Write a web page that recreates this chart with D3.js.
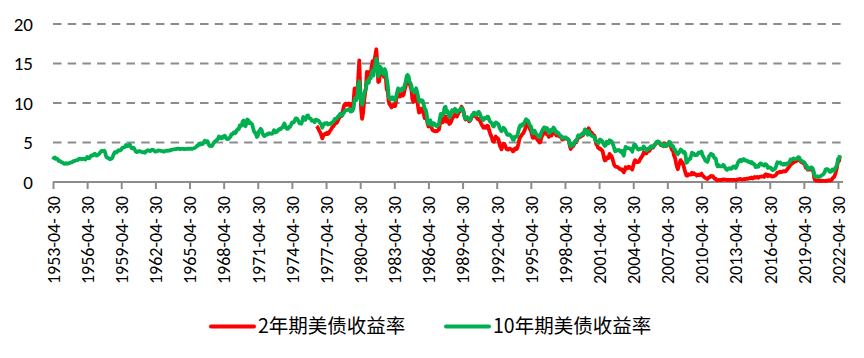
<!DOCTYPE html>
<html><head><meta charset="utf-8">
<script src="https://cdn.jsdelivr.net/npm/d3@7"></script>
<style>html,body{margin:0;padding:0;background:#fff;}svg{display:block;}</style>
</head><body>
<svg id="chart" width="864" height="358"></svg>
<script>
// Monthly series (percent), 10Y from 1953-04, 2Y from 1976-06
const tenYearStart = [1953, 4];
const tenYearYield = [
2.83,3.05,3.11,2.93,2.95,2.87,2.66,2.68,2.59,
2.48,2.47,2.37,2.29,2.37,2.38,2.30,2.36,2.38,2.43,2.48,2.51,
2.61,2.65,2.68,2.75,2.76,2.78,2.90,2.97,2.97,2.88,2.89,2.96,
2.90,2.84,2.96,3.18,3.07,3.00,3.11,3.33,3.38,3.34,3.49,3.59,
3.46,3.34,3.41,3.48,3.60,3.80,3.93,3.93,3.92,3.97,3.72,3.21,
3.09,3.05,2.98,2.88,2.92,2.97,3.20,3.54,3.76,3.80,3.74,3.86,
4.02,3.96,3.99,4.12,4.31,4.34,4.40,4.43,4.68,4.53,4.53,4.69,
4.72,4.49,4.25,4.28,4.35,4.15,3.90,3.80,3.80,3.89,3.93,3.84,
3.84,3.78,3.74,3.78,3.71,3.88,3.92,4.04,3.98,3.92,3.94,4.06,
4.08,4.04,3.93,3.84,3.87,3.91,4.01,3.98,3.98,3.93,3.92,3.86,
3.83,3.92,3.93,3.97,3.93,3.99,4.02,4.00,4.08,4.11,4.12,4.13,
4.17,4.15,4.22,4.23,4.20,4.17,4.19,4.19,4.20,4.19,4.15,4.18,
4.19,4.21,4.21,4.20,4.21,4.21,4.20,4.25,4.29,4.35,4.45,4.62,
4.61,4.83,4.87,4.75,4.78,4.81,5.02,5.22,5.18,5.01,5.16,4.84,
4.58,4.63,4.54,4.59,4.85,5.02,5.16,5.28,5.30,5.48,5.75,5.70,
5.53,5.56,5.74,5.64,5.87,5.72,5.50,5.42,5.46,5.58,5.70,6.03,
6.04,6.19,6.30,6.17,6.32,6.57,6.72,6.69,7.16,7.10,7.14,7.65,
7.79,7.24,7.07,7.39,7.91,7.84,7.46,7.53,7.39,7.33,6.84,6.39,
6.24,6.11,5.70,5.83,6.39,6.52,6.73,6.58,6.14,5.93,5.81,5.93,
5.95,6.08,6.07,6.19,6.13,6.11,6.11,6.21,6.55,6.48,6.28,6.36,
6.46,6.64,6.71,6.67,6.85,6.90,7.13,7.40,7.09,6.79,6.73,6.74,
6.99,6.96,7.21,7.51,7.58,7.54,7.81,8.04,8.04,7.90,7.68,7.43,
7.50,7.39,7.73,8.23,8.06,7.86,8.06,8.40,8.43,8.14,8.05,8.00,
7.74,7.79,7.73,7.56,7.90,7.86,7.83,7.77,7.59,7.41,7.29,6.87,
7.21,7.39,7.46,7.37,7.46,7.28,7.33,7.40,7.34,7.52,7.58,7.69,
7.96,8.03,8.04,8.15,8.35,8.46,8.64,8.41,8.42,8.64,8.81,9.01,
9.10,9.10,9.12,9.18,9.25,8.91,8.95,9.03,9.33,10.30,10.65,10.39,
10.80,12.41,12.75,11.47,10.18,9.78,10.25,11.10,11.51,11.75,12.68,12.84,
12.57,13.19,13.12,13.68,14.10,13.47,14.28,14.94,15.60,15.15,13.39,13.72,
14.59,14.43,13.86,13.87,13.62,14.30,13.95,13.06,12.34,10.91,10.55,10.54,
10.46,10.72,10.51,10.40,10.38,10.85,11.38,11.85,11.65,11.54,11.69,11.83,
11.67,11.84,12.32,12.63,13.41,13.56,13.36,12.72,12.52,12.16,11.57,11.50,
11.38,11.51,11.86,11.43,10.85,10.16,10.31,10.33,10.37,10.24,9.78,9.26,
9.19,8.70,7.78,7.30,7.71,7.80,7.30,7.17,7.45,7.43,7.25,7.11,
7.08,7.25,7.25,8.02,8.61,8.40,8.45,8.76,9.42,9.52,8.86,8.99,
8.67,8.21,8.37,8.72,9.09,8.92,9.06,9.26,8.98,8.80,8.96,9.11,
9.09,9.17,9.36,9.18,8.86,8.28,8.02,8.11,8.19,8.01,7.87,7.84,
8.21,8.47,8.59,8.79,8.76,8.48,8.47,8.75,8.89,8.72,8.39,8.08,
8.09,7.85,8.11,8.04,8.07,8.28,8.27,7.90,7.65,7.53,7.42,7.09,
7.03,7.34,7.54,7.48,7.39,7.26,6.84,6.59,6.42,6.59,6.87,6.77,
6.60,6.26,5.98,5.97,6.04,5.96,5.81,5.68,5.36,5.33,5.72,5.77,
5.75,5.97,6.48,6.97,7.18,7.10,7.30,7.24,7.46,7.74,7.96,7.81,
7.78,7.47,7.20,7.06,6.63,6.17,6.28,6.49,6.20,6.04,5.93,5.71,
5.65,5.81,6.27,6.51,6.74,6.91,6.87,6.64,6.83,6.53,6.20,6.30,
6.58,6.42,6.69,6.89,6.71,6.49,6.22,6.30,6.21,6.03,5.88,5.81,
5.54,5.57,5.65,5.64,5.65,5.50,5.46,5.34,4.81,4.53,4.83,4.65,
4.72,5.00,5.23,5.18,5.54,5.90,5.79,5.94,5.92,6.11,6.03,6.28,
6.66,6.52,6.26,5.99,6.44,6.10,6.05,5.83,5.80,5.74,5.72,5.24,
5.16,5.10,4.89,5.14,5.39,5.28,5.24,4.97,4.73,4.57,4.65,5.09,
5.04,4.91,5.28,5.21,5.16,4.93,4.65,4.26,3.87,3.94,4.05,4.03,
4.05,3.90,3.81,3.96,3.57,3.33,3.98,4.45,4.27,4.29,4.30,4.27,
4.15,4.08,3.83,4.35,4.72,4.73,4.50,4.28,4.13,4.10,4.19,4.23,
4.22,4.17,4.50,4.34,4.14,4.00,4.18,4.26,4.20,4.46,4.54,4.47,
4.42,4.57,4.72,4.99,5.11,5.11,5.09,4.88,4.72,4.73,4.60,4.56,
4.76,4.72,4.56,4.69,4.75,5.10,5.00,4.67,4.52,4.53,4.15,4.10,
3.74,3.74,3.51,3.68,3.88,4.10,4.01,3.89,3.69,3.81,3.53,2.42,
2.52,2.87,2.82,2.93,3.29,3.72,3.56,3.59,3.40,3.39,3.40,3.59,
3.73,3.69,3.73,3.85,3.42,3.20,3.01,2.70,2.65,2.54,2.76,3.29,
3.39,3.58,3.41,3.46,3.17,3.00,3.00,2.30,1.98,2.15,2.01,1.98,
1.97,1.97,2.17,2.05,1.80,1.62,1.53,1.68,1.72,1.75,1.65,1.72,
1.91,1.98,1.96,1.76,1.93,2.30,2.58,2.74,2.81,2.62,2.72,2.90,
2.86,2.71,2.72,2.71,2.56,2.60,2.54,2.42,2.53,2.30,2.33,2.21,
1.88,1.98,2.04,1.94,2.20,2.36,2.32,2.17,2.17,2.07,2.26,2.24,
2.09,1.78,1.89,1.81,1.81,1.64,1.50,1.56,1.63,1.76,2.14,2.49,
2.43,2.42,2.48,2.30,2.30,2.19,2.32,2.21,2.20,2.36,2.35,2.40,
2.58,2.86,2.84,2.87,2.98,2.91,2.89,2.89,3.00,3.15,3.12,2.83,
2.71,2.68,2.57,2.53,2.40,2.07,2.06,1.63,1.70,1.71,1.81,1.86,
1.76,1.50,0.87,0.66,0.67,0.73,0.62,0.65,0.68,0.79,0.87,0.93,
1.08,1.26,1.61,1.64,1.62,1.52,1.32,1.28,1.37,1.58,1.56,1.47,
1.76,1.93,2.13,2.90,2.95,3.40
];
const twoYearStart = [1976, 6];
const twoYearYield = [
7.06,6.94,6.68,6.44,6.23,5.90,5.52,
5.85,6.02,6.12,6.06,6.23,6.07,6.20,6.46,6.58,6.84,6.97,7.10,
7.37,7.43,7.48,7.62,7.90,8.17,8.37,8.31,8.59,9.19,9.69,9.87,
9.92,9.75,9.84,9.95,9.90,9.26,9.37,9.59,10.16,11.81,11.84,11.54,
11.32,13.22,15.40,11.97,9.13,8.00,8.69,10.05,11.09,11.97,13.94,13.67,
13.17,13.96,13.64,14.57,15.28,14.47,15.36,16.08,16.80,15.11,12.66,12.73,
14.12,14.21,13.58,13.68,13.32,14.07,13.25,11.71,11.48,10.22,9.82,9.66,
9.44,9.65,9.76,9.62,9.62,10.39,10.92,11.40,11.11,10.82,10.94,11.14,
10.93,11.11,11.74,12.10,12.91,13.26,13.12,12.44,12.09,11.63,10.49,10.15,
10.19,10.62,11.18,10.59,9.60,8.79,8.85,9.27,9.28,9.05,8.62,8.09,
8.19,8.03,7.48,7.03,7.32,7.63,7.00,6.63,6.52,6.47,6.42,6.48,
6.43,6.55,6.60,7.22,7.91,7.80,7.56,7.91,8.34,8.32,7.65,7.96,
7.72,7.35,7.44,7.64,8.05,8.19,8.32,8.57,8.54,8.28,8.57,8.89,
8.91,9.23,9.53,9.28,8.93,8.32,7.90,8.04,8.16,7.90,7.69,7.77,
8.01,8.23,8.42,8.59,8.53,8.28,8.12,7.96,7.98,7.82,7.58,7.29,
7.09,6.88,7.03,6.86,6.86,7.13,7.06,6.54,6.18,5.86,5.55,5.14,
5.09,5.47,5.75,5.59,5.53,5.34,4.70,4.43,4.13,4.44,4.85,4.83,
4.56,4.24,4.14,4.09,4.23,4.22,4.16,4.09,3.89,3.94,4.20,4.29,
4.18,4.38,4.89,5.44,5.73,5.85,6.06,6.16,6.43,6.72,7.22,7.61,
7.51,7.06,6.70,6.51,6.06,5.58,5.59,5.80,5.69,5.55,5.34,5.18,
4.99,5.04,5.59,5.86,6.06,6.27,6.33,6.10,6.25,5.93,5.71,5.86,
6.01,5.90,6.22,6.45,6.28,6.09,5.89,5.94,5.88,5.77,5.71,5.72,
5.36,5.38,5.50,5.50,5.52,5.46,5.42,5.26,4.62,4.18,4.57,4.48,
4.61,4.90,5.11,5.03,5.33,5.70,5.62,5.77,5.75,5.94,5.92,6.14,
6.44,6.61,6.53,6.40,6.81,6.48,6.34,6.23,6.08,5.91,5.88,5.35,
4.76,4.66,4.34,4.23,4.26,4.08,4.04,3.76,3.12,2.73,2.78,3.11,
3.03,3.02,3.56,3.42,3.26,2.99,2.56,2.13,2.00,1.91,1.92,1.84,
1.74,1.63,1.57,1.62,1.42,1.23,1.47,1.86,1.71,1.75,1.93,1.91,
1.76,1.74,1.58,2.07,2.53,2.76,2.64,2.51,2.53,2.58,2.85,3.01,
3.22,3.38,3.73,3.65,3.64,3.64,3.87,4.04,3.95,4.17,4.33,4.38,
4.35,4.64,4.74,4.89,4.97,5.12,5.04,4.82,4.67,4.69,4.58,4.53,
4.88,4.85,4.57,4.67,4.77,4.96,4.82,4.34,4.06,3.97,3.34,3.12,
2.48,1.97,1.62,2.05,2.45,2.77,2.57,2.42,2.08,1.61,1.21,0.82,
0.81,0.98,0.93,0.93,0.93,1.18,1.02,1.12,0.96,0.95,0.80,0.87,
0.93,0.86,0.96,1.06,0.83,0.72,0.62,0.52,0.47,0.38,0.45,0.62,
0.61,0.77,0.70,0.73,0.56,0.41,0.41,0.23,0.21,0.28,0.25,0.26,
0.24,0.28,0.34,0.29,0.29,0.29,0.25,0.27,0.26,0.28,0.27,0.26,
0.27,0.27,0.26,0.23,0.25,0.33,0.34,0.36,0.40,0.34,0.30,0.34,
0.39,0.33,0.40,0.42,0.39,0.45,0.51,0.47,0.57,0.45,0.54,0.64,
0.55,0.62,0.64,0.54,0.61,0.69,0.67,0.70,0.71,0.64,0.88,0.98,
0.90,0.73,0.88,0.77,0.82,0.73,0.67,0.74,0.77,0.84,0.98,1.20,
1.21,1.20,1.31,1.24,1.30,1.34,1.37,1.34,1.38,1.55,1.70,1.84,
2.03,2.18,2.28,2.38,2.51,2.53,2.61,2.64,2.77,2.86,2.86,2.68,
2.54,2.50,2.41,2.34,2.21,1.81,1.84,1.57,1.65,1.56,1.61,1.61,
1.52,1.33,0.45,0.22,0.17,0.19,0.14,0.14,0.13,0.15,0.17,0.14,
0.13,0.12,0.15,0.16,0.16,0.20,0.22,0.22,0.24,0.43,0.56,0.67,
0.97,1.39,1.91,2.70,2.65,3.25
];
const tickYears = [1953,1956,1959,1962,1965,1968,1971,1974,1977,1980,1983,1986,1989,1992,1995,1998,2001,2004,2007,2010,2013,2016,2019,2022];
const tickLabels = tickYears.map(yr => yr + "-04- 30");
const yTicks = [0,5,10,15,20];
const seriesNames = ["2年期美债收益率", "10年期美债收益率"];
const seriesColors = ["#FF0000", "#00B050"];

function toSeries(start, vals) {
  return vals.map((v, i) => {
    const m0 = start[1] - 1 + i;
    const yr = start[0] + Math.floor(m0 / 12);
    const mo = m0 % 12;
    return { date: new Date(yr, mo + 1, 0), value: v }; // end of month
  });
}
const s10 = toSeries(tenYearStart, tenYearYield);
const s2 = toSeries(twoYearStart, twoYearYield);

const svg = d3.select("#chart");
const x = d3.scaleTime().domain([new Date(1953,3,30), new Date(2022,3,30)]).range([53, 838]);
const y = d3.scaleLinear().domain([0, 20]).range([182, 24]);
const font = "Carlito, Lato, 'Liberation Sans', sans-serif";

// gridlines
svg.append("g").selectAll("line").data(yTicks.filter(d => d > 0)).join("line")
  .attr("x1", 53).attr("x2", 843)
  .attr("y1", d => y(d)).attr("y2", d => y(d))
  .attr("stroke", "#8c8c8c").attr("stroke-width", 2).attr("stroke-dasharray", "8.5,6.2");

// y labels
svg.append("g").selectAll("text").data(yTicks).join("text")
  .attr("x", 33).attr("y", d => y(d)).attr("dy", "0.35em")
  .attr("text-anchor", "end").attr("font-family", font).attr("font-size", 19).attr("fill", "#000")
  .text(d => d);

// x axis
const xAxis = d3.axisBottom(x)
  .tickValues(tickYears.map(yr => new Date(yr, 3, 30)))
  .tickSize(7).tickSizeOuter(0)
  .tickFormat((d, i) => tickLabels[i]);
const gx = svg.append("g").attr("transform", "translate(0,182)").call(xAxis);
gx.select(".domain").remove();
gx.append("line").attr("x1", 53).attr("x2", 843).attr("y1", 0).attr("y2", 0)
  .attr("stroke", "#8c8c8c").attr("stroke-width", 2);
gx.selectAll(".tick line").attr("stroke", "#8c8c8c").attr("stroke-width", 2);
gx.selectAll(".tick text")
  .attr("font-family", font).attr("font-size", 18).attr("fill", "#000")
  .attr("text-anchor", "end")
  .attr("transform", "translate(0,14) rotate(-90)")
  .attr("x", 0).attr("y", 0).attr("dy", "0.35em");

// lines
const line = d3.line().x(d => x(d.date)).y(d => y(d.value)).curve(d3.curveLinear);
svg.append("path").datum(s2).attr("d", line).attr("fill", "none")
  .attr("stroke", seriesColors[0]).attr("stroke-width", 3.8).attr("stroke-linejoin", "round");
svg.append("path").datum(s10).attr("d", line).attr("fill", "none")
  .attr("stroke", seriesColors[1]).attr("stroke-width", 3.8).attr("stroke-linejoin", "round");

// legend
const legendX = [211, 446];
const lg = svg.append("g");
seriesNames.forEach((name, i) => {
  lg.append("line").attr("x1", legendX[i]).attr("x2", legendX[i] + 43)
    .attr("y1", 326.5).attr("y2", 326.5)
    .attr("stroke", seriesColors[i]).attr("stroke-width", 4).attr("stroke-linecap", "round");
  lg.append("text").attr("x", legendX[i] + 47).attr("y", 326.5).attr("dy", "0.35em")
    .attr("font-family", "'Noto Sans CJK SC', " + font).attr("font-size", 19.5).attr("fill", "#000")
    .text(name);
});
</script>
</body></html>
